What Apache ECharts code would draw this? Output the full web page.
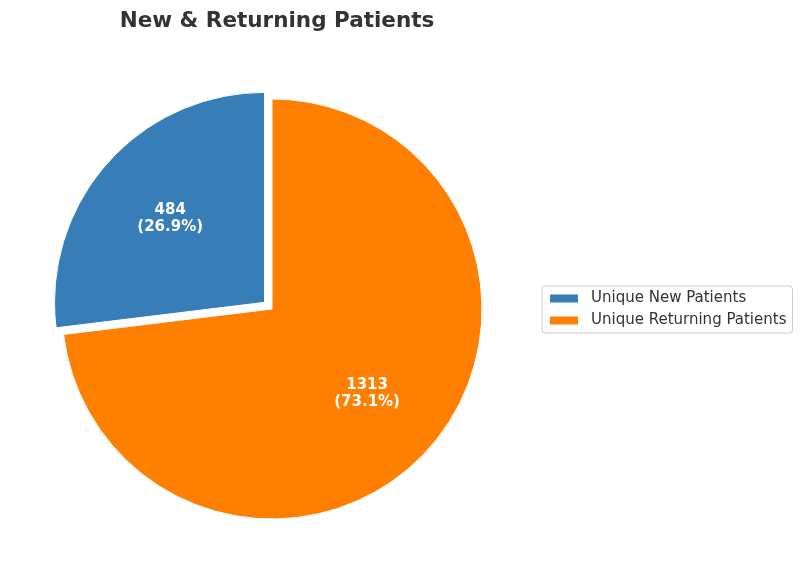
<!DOCTYPE html>
<html>
<head>
<meta charset="utf-8">
<script src="https://cdn.jsdelivr.net/npm/echarts@6/dist/echarts.min.js"></script>
<style>html,body{margin:0;padding:0;background:#fff}#c{width:800px;height:582px}</style>
</head>
<body>
<div id="c"></div>
<script>
const categories = ['Unique New Patients', 'Unique Returning Patients'];
const values = [484, 1313];
const colors = ['#377eb8', '#ff7f00'];
const titleText = 'New & Returning Patients';

const total = values.reduce((a, b) => a + b, 0);
const chart = echarts.init(document.getElementById('c'), null, {renderer: 'canvas'});
const FONT = 'DejaVu Sans';

function mkData(withColor) {
  return categories.map((n, i) => ({
    name: n,
    value: values[i],
    selected: i === 0,
    itemStyle: withColor ? {color: colors[i]} : {color: 'rgba(0,0,0,0)'}
  }));
}

chart.setOption({
  animation: false,
  title: {
    text: titleText,
    left: 272,
    textAlign: 'center',
    top: 5,
    textStyle: {fontFamily: FONT, fontSize: 21.5, fontWeight: 'bold', color: '#333333'}
  },
  legend: {
    orient: 'vertical',
    left: 542,
    top: 286,
    data: categories,
    icon: 'rect',
    itemWidth: 30,
    itemHeight: 10,
    itemGap: 7,
    padding: [5, 6, 5, 6],
    borderColor: '#cccccc',
    borderWidth: 1,
    borderRadius: 3,
    selectedMode: false,
    textStyle: {fontFamily: FONT, fontSize: 15, color: '#333333', padding: [0, 0, 0, 7]}
  },
  series: [
    {
      type: 'pie',
      center: [272, 309],
      radius: [0, 210],
      startAngle: 90,
      clockwise: false,
      selectedMode: 'single',
      selectedOffset: 10,
      silent: true,
      label: {show: false},
      labelLine: {show: false},
      itemStyle: {borderColor: '#ffffff', borderWidth: 1},
      emphasis: {disabled: true},
      data: mkData(true)
    },
    {
      type: 'pie',
      center: [272, 309],
      radius: [38, 210],
      startAngle: 90,
      clockwise: false,
      selectedMode: 'single',
      selectedOffset: 9,
      silent: true,
      legendHoverLink: false,
      label: {
        show: true,
        position: 'inside',
        fontFamily: FONT,
        fontSize: 15,
        fontWeight: 'bold',
        color: '#ffffff',
        lineHeight: 17,
        formatter: p => p.value + '\n(' + (p.value / total * 100).toFixed(1) + '%)'
      },
      labelLine: {show: false},
      emphasis: {disabled: true},
      data: mkData(false)
    }
  ]
});
</script>
</body>
</html>
